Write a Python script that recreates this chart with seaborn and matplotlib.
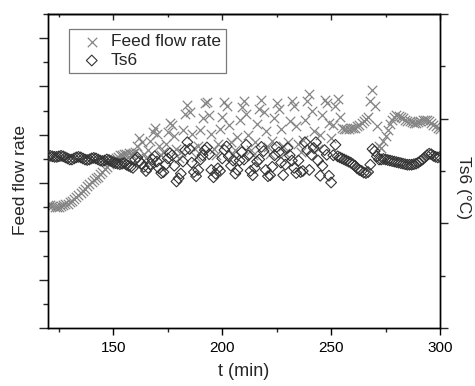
import matplotlib
matplotlib.use("Agg")
import matplotlib.pyplot as plt
import seaborn as sns
import pandas as pd
from matplotlib.ticker import MultipleLocator, NullFormatter

# ---------------- data ----------------
time_min = list(range(120, 301))  # one sample per minute

feed_flow = [
    5.10, 5.08, 5.05, 5.03, 5.02, 5.03, 5.05, 5.08, 5.12, 5.15, 5.20,
    5.25, 5.33, 5.41, 5.50, 5.59, 5.68, 5.77, 5.86, 5.96,
    6.05, 6.13, 6.20, 6.27, 6.36, 6.46, 6.57, 6.68, 6.79, 6.88, 6.96, 7.03,
    7.10, 7.15, 7.18, 7.20, 7.22, 7.24, 7.22, 7.25, 7.30,
    7.55, 7.85, 7.70, 7.20, 7.05, 7.35, 7.75, 8.10, 8.30, 8.05,
    7.55, 7.15, 7.30, 7.60, 8.10, 8.50, 8.40, 7.95, 7.40, 7.05,
    7.30, 8.20, 8.85, 9.25, 8.95, 8.05, 7.45, 7.10, 7.55, 8.20,
    8.70, 9.30, 9.35, 8.80, 8.05, 7.40, 7.15, 7.60, 8.25, 8.75,
    9.35, 9.20, 8.40, 7.70, 7.20, 7.35, 7.90, 8.60, 9.15, 9.40,
    8.85, 8.00, 7.35, 7.15, 7.70, 8.45, 9.05, 9.45, 8.95, 8.15,
    7.50, 7.20, 7.75, 8.70, 9.30, 9.05, 8.25, 7.55, 7.25, 7.70,
    8.55, 9.40, 9.20, 8.35, 7.60, 7.30, 7.80, 8.60, 9.40, 9.70,
    9.00, 8.15, 7.50, 7.40, 8.00, 8.80, 9.45, 9.30, 8.50, 7.85,
    8.40, 9.20, 9.50, 8.75, 8.30, 8.25, 8.24, 8.25, 8.27, 8.27,
    8.30, 8.35, 8.42, 8.50, 8.58, 8.66, 8.72, 9.40, 9.85, 9.20,
    8.35, 7.55, 7.45, 7.75, 7.95, 8.20, 8.45, 8.62, 8.75, 8.80,
    8.78, 8.74, 8.68, 8.62, 8.58, 8.55, 8.52, 8.50, 8.50, 8.52,
    8.56, 8.60, 8.62, 8.62, 8.58, 8.50, 8.42, 8.35, 8.28, 8.22,
]

ts6 = [
    63.28, 63.29, 63.28, 63.27, 63.27, 63.28, 63.29, 63.28, 63.26, 63.24, 63.22,
    63.22, 63.24, 63.26, 63.27, 63.26, 63.24, 63.22, 63.21, 63.22, 63.24,
    63.25, 63.24, 63.22, 63.20, 63.19, 63.20, 63.22, 63.21, 63.19, 63.17,
    63.15, 63.14, 63.13, 63.14, 63.15, 63.12, 63.10, 63.08, 63.06, 63.22,
    63.26, 63.18, 63.14, 63.08, 63.00, 63.06, 63.13, 63.22, 63.28, 63.18,
    63.05, 62.96, 62.98, 63.12, 63.24, 63.34, 63.30, 63.10, 62.80, 62.86,
    62.95, 63.18, 63.40, 63.55, 63.42, 63.16, 62.98, 62.90, 63.02, 63.22,
    63.30, 63.40, 63.45, 63.32, 63.02, 62.88, 62.95, 63.05, 63.00, 63.24,
    63.40, 63.47, 63.28, 63.10, 63.20, 62.95, 63.02, 63.20, 63.36, 63.22,
    63.50, 63.30, 63.00, 62.92, 63.06, 63.18, 63.22, 63.46, 63.38, 63.02,
    62.90, 62.92, 63.08, 63.30, 63.46, 63.36, 63.16, 62.92, 63.12, 63.44,
    63.30, 63.20, 63.06, 62.96, 63.20, 62.98, 63.00, 63.55, 63.40, 63.02,
    63.31, 63.44, 63.55, 63.20, 62.91, 63.10, 63.40, 63.31, 62.91, 62.78,
    63.30, 63.50, 63.28, 63.26, 63.24, 63.22, 63.20, 63.18, 63.16, 63.13,
    63.10, 63.05, 63.02, 63.00, 62.97, 62.96, 62.98, 63.12, 63.42, 63.38,
    63.28, 63.22, 63.22, 63.23, 63.22, 63.21, 63.20, 63.19, 63.18, 63.17,
    63.16, 63.15, 63.14, 63.13, 63.12, 63.12, 63.12, 63.13, 63.14, 63.16,
    63.19, 63.22, 63.26, 63.30, 63.33, 63.32, 63.29, 63.27, 63.26, 63.27,
]

series_labels = ["Feed flow rate", "Ts6"]
x_label = "t (min)"
left_label = "Feed flow rate"
right_label = "Ts6 (°C)"

df = pd.DataFrame({"t": time_min, "flow": feed_flow, "ts6": ts6})

# ---------------- style ----------------
sns.set_theme(style="ticks")
plt.rcParams["font.family"] = ["Liberation Sans", "DejaVu Sans"]
plt.rcParams["axes.linewidth"] = 1.0

fig = plt.figure(figsize=(4.75, 3.86), dpi=100)
ax = fig.add_axes([48 / 475, 58 / 386, 392 / 475, 314 / 386])
ax2 = ax.twinx()

sns.scatterplot(data=df, x="t", y="flow", ax=ax, marker="x", s=46,
                color="#858585", linewidth=0.9, label=series_labels[0],
                legend=False, zorder=2)
sns.scatterplot(data=df, x="t", y="ts6", ax=ax2, marker="D", s=30,
                color="#333333", facecolor="none", edgecolor="#333333",
                linewidth=0.8, label=series_labels[1], legend=False, zorder=3)

for a in (ax, ax2):
    for sp in a.spines.values():
        sp.set_color("black")
        sp.set_linewidth(1.0)

# x axis
ax.set_xlim(120, 300)
ax.xaxis.set_major_locator(MultipleLocator(50))
ax.xaxis.set_minor_locator(MultipleLocator(25))
ax.tick_params(axis="x", which="major", direction="out", length=5, width=1,
               labelsize=11, pad=4, colors="black")
ax.tick_params(axis="x", which="minor", direction="out", length=3, width=1)

top = ax.secondary_xaxis("top")
top.xaxis.set_major_locator(MultipleLocator(50))
top.xaxis.set_minor_locator(MultipleLocator(25))
top.xaxis.set_major_formatter(NullFormatter())
top.tick_params(axis="x", which="major", direction="in", length=4, width=1)
top.tick_params(axis="x", which="minor", direction="in", length=2.5, width=1)
top.spines["top"].set_linewidth(1.0)

# left y axis
ax.set_ylim(0, 13)
ax.yaxis.set_major_locator(MultipleLocator(2))
ax.yaxis.set_minor_locator(MultipleLocator(1))
ax.tick_params(axis="y", which="major", direction="out", length=6.5, width=1,
               labelleft=False)
ax.tick_params(axis="y", which="minor", direction="out", length=3.5, width=1)

# right y axis
ax2.set_ylim(60, 66)
ax2.yaxis.set_major_locator(MultipleLocator(2))
ax2.yaxis.set_minor_locator(MultipleLocator(1))
ax2.tick_params(axis="y", which="major", direction="out", length=5.5, width=1,
                labelright=False)
ax2.tick_params(axis="y", which="minor", direction="out", length=3.3, width=1)

ax.set_xlabel(x_label, fontsize=13)
ax.xaxis.set_label_coords(0.5, -0.113)
ax.set_ylabel(left_label, fontsize=12.5)
ax.yaxis.set_label_coords(-0.05, 0.47)
ax2.set_ylabel(right_label, fontsize=12.5, rotation=270)
ax2.yaxis.set_label_coords(1.08, 0.446)

handles = [ax.collections[0], ax2.collections[0]]
leg = ax2.legend(handles=handles, labels=series_labels, loc="upper left",
                 bbox_to_anchor=(0.054, 0.952), borderaxespad=0,
                 frameon=True, fancybox=False, edgecolor="#7a7a7a",
                 framealpha=1, fontsize=12.5, handlelength=2.0,
                 handletextpad=0.1, borderpad=0.3, labelspacing=0.2,
                 scatterpoints=1)
leg.get_frame().set_linewidth(0.9)

fig.savefig("out.png", dpi=100)
